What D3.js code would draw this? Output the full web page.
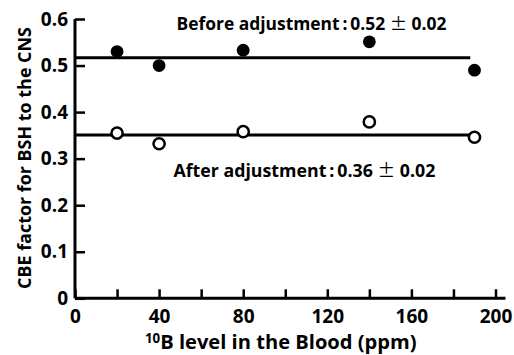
<!DOCTYPE html>
<html><head><meta charset="utf-8">
<script src="https://cdn.jsdelivr.net/npm/d3@7"></script>
<style>
body{margin:0;background:#fff;}
svg text{font-family:"Open Sans", Lato, sans-serif;font-weight:700;fill:#000;}
.cjk{font-family:"Noto Sans CJK JP", "Noto Sans CJK SC", sans-serif;font-weight:400;}
</style></head>
<body><svg id="c" width="514" height="355"></svg>
<script>
const bloodB = [20, 40, 80, 140, 190];
const before = [0.53, 0.50, 0.533, 0.551, 0.49];
const after = [0.355, 0.332, 0.358, 0.379, 0.346];
const beforeFit = {value: 0.517, from: 0, to: 188};
const afterFit = {value: 0.351, from: 0, to: 190};
const xTicks = [0, 20, 40, 60, 80, 100, 120, 140, 160, 180, 200];
const xLabels = [0, 40, 80, 120, 160, 200];
const yTicks = [0, 0.1, 0.2, 0.3, 0.4, 0.5, 0.6];
const beforeLabel = ["Before adjustment\u2009:\u20090.52 ", "\u00B1", " 0.02"];
const afterLabel = ["After adjustment\u2009:\u20090.36 ", "\u00B1", " 0.02"];

const svg = d3.select("#c");
const x = d3.scaleLinear().domain([0, 200]).range([75, 495.5]);
const y = d3.scaleLinear().domain([0, 0.6]).range([298.3, 19]);

function fit(sel, w) {
  const fs = +sel.attr("font-size");
  const len = sel.node().getComputedTextLength();
  if (len > 0) sel.attr("font-size", fs * w / len);
}

// axes
const xAxis = d3.axisBottom(x).tickValues(xTicks).tickSize(-9).tickSizeOuter(0)
  .tickFormat(d => xLabels.includes(d) ? d : "");
const gx = svg.append("g").attr("transform", `translate(0,${y(0)})`).call(xAxis);
gx.select(".domain").attr("d", `M${x(0)},0H${x(200)+10}`).attr("stroke","#000").attr("stroke-width",3);
gx.selectAll(".tick line").attr("stroke","#000").attr("stroke-width",2.5);
gx.selectAll(".tick text").attr("font-size",19).attr("dy",null).attr("y",24.5);

const yAxis = d3.axisLeft(y).tickValues(yTicks).tickSize(-10).tickSizeOuter(0)
  .tickFormat(d => d === 0 ? "0" : d3.format(".1f")(d));
const gy = svg.append("g").attr("transform", `translate(${x(0)},0)`).call(yAxis);
gy.select(".domain").attr("d", `M0,${y(0.6)}V${y(0)}`).attr("stroke","#000").attr("stroke-width",3);
gy.selectAll(".tick line").attr("stroke","#000").attr("stroke-width",2.5);
gy.selectAll(".tick text").attr("font-size",19).attr("x",-7);

// fit lines
[beforeFit, afterFit].forEach(f => {
  svg.append("line").attr("x1", x(f.from)).attr("x2", x(f.to))
    .attr("y1", y(f.value)).attr("y2", y(f.value))
    .attr("stroke","#000").attr("stroke-width",3);
});

// points
svg.selectAll("circle.before").data(bloodB.map((d,i)=>[d,before[i]])).enter()
  .append("circle").attr("class","before").attr("cx",d=>x(d[0])).attr("cy",d=>y(d[1])).attr("r",6.4).attr("fill","#000");
svg.selectAll("circle.after").data(bloodB.map((d,i)=>[d,after[i]])).enter()
  .append("circle").attr("class","after").attr("cx",d=>x(d[0])).attr("cy",d=>y(d[1])).attr("r",5.6)
  .attr("fill","#fff").attr("stroke","#000").attr("stroke-width",2.5);

// annotations
function label(parts, xp, yp, w) {
  const t = svg.append("text").attr("x",xp).attr("y",yp).attr("font-size",17);
  t.append("tspan").text(parts[0]);
  t.append("tspan").attr("class","cjk").text(parts[1]);
  t.append("tspan").text(parts[2]);
  fit(t, w);
}
label(beforeLabel, 176.5, 30, 270);
label(afterLabel, 173.5, 177, 262);

// axis titles
const xt = svg.append("text").attr("x",145).attr("y",349).attr("font-size",18);
xt.append("tspan").attr("font-size",12).attr("dy",-6).text("10");
xt.append("tspan").attr("dy",6).text("B level in the Blood (ppm)");
fit(xt, 272);
xt.select("tspan").attr("font-size", +xt.attr("font-size")*0.66);
const yt = svg.append("text").attr("transform","translate(31,158) rotate(-90)").attr("text-anchor","middle")
  .attr("font-size",18).text("CBE factor for BSH to the CNS");
fit(yt, 262);
</script></body></html>
